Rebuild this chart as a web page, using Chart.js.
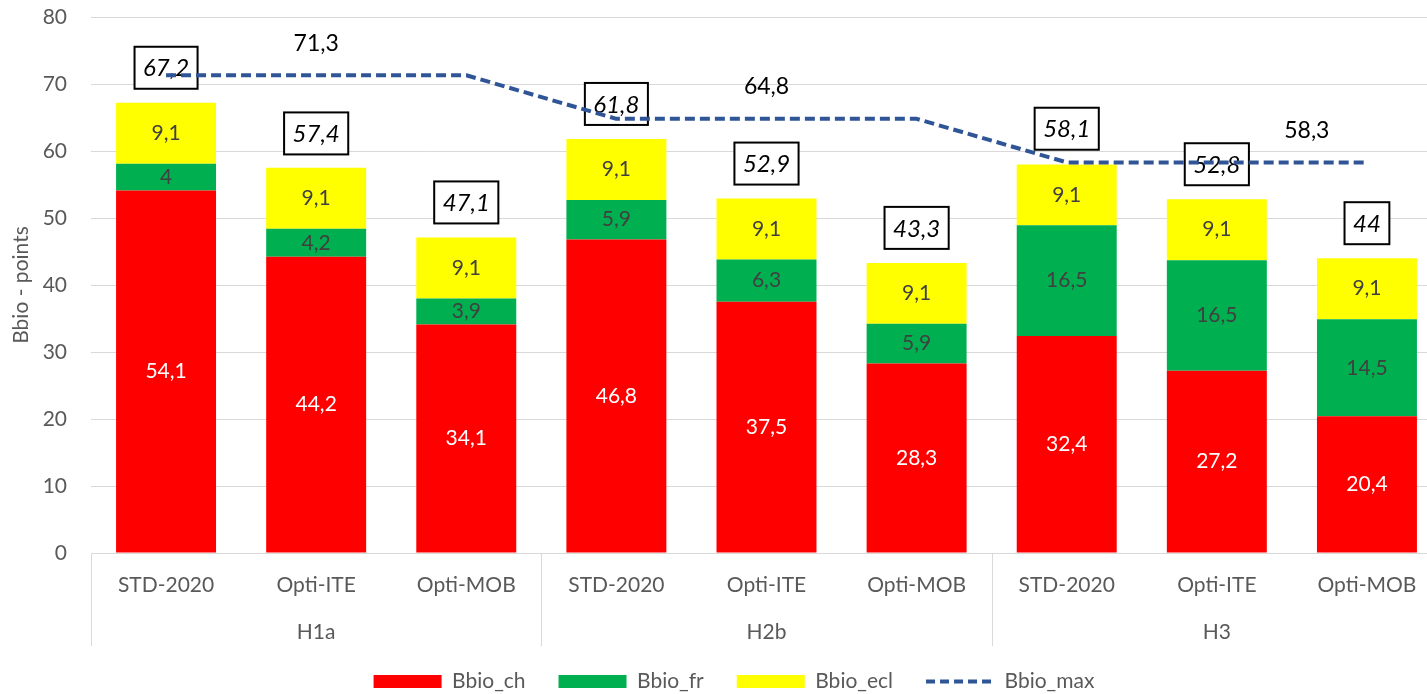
<!DOCTYPE html>
<html>
<head>
<meta charset="utf-8">
<title>Bbio</title>
<script src="https://cdn.jsdelivr.net/npm/chart.js@4.4.0/dist/chart.umd.min.js"></script>
<style>
  html, body { margin: 0; padding: 0; background: #fff; overflow: hidden; }
</style>
</head>
<body>
<canvas id="chart" width="1442" height="694"></canvas>
<script>
// categories (two levels)
const categories = ['STD-2020', 'Opti-ITE', 'Opti-MOB', 'STD-2020', 'Opti-ITE', 'Opti-MOB', 'STD-2020', 'Opti-ITE', 'Opti-MOB'];
const groups = ['H1a', 'H2b', 'H3'];

// series
const bbioCh = [54.1, 44.2, 34.1, 46.8, 37.5, 28.3, 32.4, 27.2, 20.4];
const bbioFr = [4, 4.2, 3.9, 5.9, 6.3, 5.9, 16.5, 16.5, 14.5];
const bbioEcl = [9.1, 9.1, 9.1, 9.1, 9.1, 9.1, 9.1, 9.1, 9.1];
const bbioMax = [71.3, 71.3, 71.3, 64.8, 64.8, 64.8, 58.3, 58.3, 58.3];
const totals = [67.2, 57.4, 47.1, 61.8, 52.9, 43.3, 58.1, 52.8, 44];

// y axis ticks
const yTicks = [0, 10, 20, 30, 40, 50, 60, 70, 80];

const FONT = 'Lato, "Open Sans", sans-serif';
const GREY = '#595959';
const fmt = v => String(v).replace('.', ',');

const labelPlugin = {
    id: 'labels',
    beforeDatasetDraw(chart, args) {
        // draw bar labels and total boxes after bars, before the dashed line
        if (chart.data.datasets[args.index].type !== 'line') return;
        const ctx = chart.ctx;
        const y = chart.scales.y;
        ctx.save();
        ctx.textAlign = 'center';
        ctx.textBaseline = 'middle';
        ctx.font = '21px ' + FONT;
        [0, 1, 2].forEach(di => {
            const meta = chart.getDatasetMeta(di);
            meta.data.forEach((bar, i) => {
                ctx.fillStyle = di === 0 ? '#ffffff' : '#404040';
                ctx.fillText(fmt(chart.data.datasets[di].data[i]), bar.x, (bar.y + bar.base) / 2);
            });
        });
        // totals in boxes
        ctx.font = 'italic 24px ' + FONT;
        const meta = chart.getDatasetMeta(0);
        totals.forEach((t, i) => {
            const cx = meta.data[i].x;
            const cy = y.getPixelForValue(t) - 35;
            const txt = fmt(t);
            const w = ctx.measureText(txt).width + 17;
            const h = 42;
            ctx.fillStyle = '#ffffff';
            ctx.fillRect(cx - w / 2, cy - h / 2, w, h);
            ctx.lineWidth = 2;
            ctx.strokeStyle = '#000000';
            ctx.strokeRect(cx - w / 2, cy - h / 2, w, h);
            ctx.fillStyle = '#000000';
            ctx.fillText(txt, cx, cy + 1);
        });
        ctx.restore();
    },
    afterDraw(chart) {
        const ctx = chart.ctx;
        const x = chart.scales.x;
        const y = chart.scales.y;
        const area = chart.chartArea;
        const step = (area.right - area.left) / categories.length;
        ctx.save();
        // group separators
        ctx.strokeStyle = '#D9D9D9';
        ctx.lineWidth = 1;
        for (let g = 0; g <= groups.length; g++) {
            const px = Math.round(area.left + g * 3 * step) + 0.5;
            ctx.beginPath();
            ctx.moveTo(px, area.bottom);
            ctx.lineTo(px, area.bottom + 93);
            ctx.stroke();
        }
        // group labels
        ctx.fillStyle = GREY;
        ctx.font = '21px ' + FONT;
        ctx.textAlign = 'center';
        ctx.textBaseline = 'middle';
        groups.forEach((g, k) => {
            ctx.fillText(g, x.getPixelForValue(k * 3 + 1), area.bottom + 79);
        });
        // labels for the max line
        ctx.fillStyle = '#000000';
        ctx.font = '23px ' + FONT;
        const offsets = {1: 0, 4: 0, 7: 90};
        Object.keys(offsets).forEach(k => {
            const i = +k;
            ctx.fillText(fmt(bbioMax[i]), x.getPixelForValue(i) + offsets[k], y.getPixelForValue(bbioMax[i]) - 32);
        });
        ctx.restore();
    }
};

const ctx = document.getElementById('chart').getContext('2d');

new Chart(ctx, {
    data: {
        labels: categories,
        datasets: [
            { type: 'bar', label: 'Bbio_ch', data: bbioCh, backgroundColor: '#FF0000', borderWidth: 0, pointStyle: 'rect', order: 1 },
            { type: 'bar', label: 'Bbio_fr', data: bbioFr, backgroundColor: '#00B050', borderWidth: 0, pointStyle: 'rect', order: 1 },
            { type: 'bar', label: 'Bbio_ecl', data: bbioEcl, backgroundColor: '#FFFF00', borderWidth: 0, pointStyle: 'rect', order: 1 },
            {
                type: 'line', label: 'Bbio_max', data: bbioMax,
                borderColor: '#2F5597', backgroundColor: '#2F5597', borderWidth: 4,
                borderDash: [10, 5], borderCapStyle: 'butt', borderJoinStyle: 'round',
                pointRadius: 0, pointStyle: 'line', tension: 0, order: 0
            }
        ]
    },
    options: {
        responsive: false,
        animation: false,
        devicePixelRatio: 1,
        datasets: {
            bar: { barPercentage: 0.666, categoryPercentage: 1 }
        },
        layout: { padding: { top: 17, bottom: -8, left: 26, right: 0 } },
        scales: {
            x: {
                stacked: true,
                grid: { display: false, drawTicks: false },
                border: { display: true, color: '#D9D9D9', width: 1 },
                ticks: { color: GREY, font: { family: FONT, size: 21 }, padding: 20, maxRotation: 0, autoSkip: false },
                afterFit(s) { s.height = 694 + 8 - 553 - s.chart.legend.height; }
            },
            y: {
                stacked: true,
                min: 0,
                max: 80,
                afterBuildTicks(s) { s.ticks = yTicks.map(v => ({ value: v })); },
                grid: { color: '#D9D9D9', lineWidth: 1, drawTicks: false },
                border: { display: false },
                ticks: { color: GREY, font: { family: FONT, size: 21 }, padding: 24 },
                title: { display: true, text: 'Bbio - points', color: GREY, font: { family: FONT, size: 21 }, padding: { top: -17, bottom: 0 } },
                afterFit(s) { s.width = 65; s.paddingTop = 0; s.paddingBottom = 0; }
            }
        },
        plugins: {
            legend: {
                position: 'bottom',
                labels: {
                    usePointStyle: true,
                    pointStyleWidth: 68,
                    boxHeight: 13,
                    padding: 33,
                    color: GREY,
                    font: { family: FONT, size: 21 },
                    sort: (a, b) => a.datasetIndex - b.datasetIndex,
                    generateLabels(chart) {
                        const items = Chart.defaults.plugins.legend.labels.generateLabels(chart);
                        items.forEach(it => {
                            const ds = chart.data.datasets[it.datasetIndex];
                            if (ds.type === 'line') {
                                it.lineDash = [9, 5];
                                it.lineWidth = ds.borderWidth;
                                it.strokeStyle = ds.borderColor;
                            }
                        });
                        return items;
                    }
                }
            },
            tooltip: { enabled: false }
        }
    },
    plugins: [labelPlugin]
});
</script>
</body>
</html>
